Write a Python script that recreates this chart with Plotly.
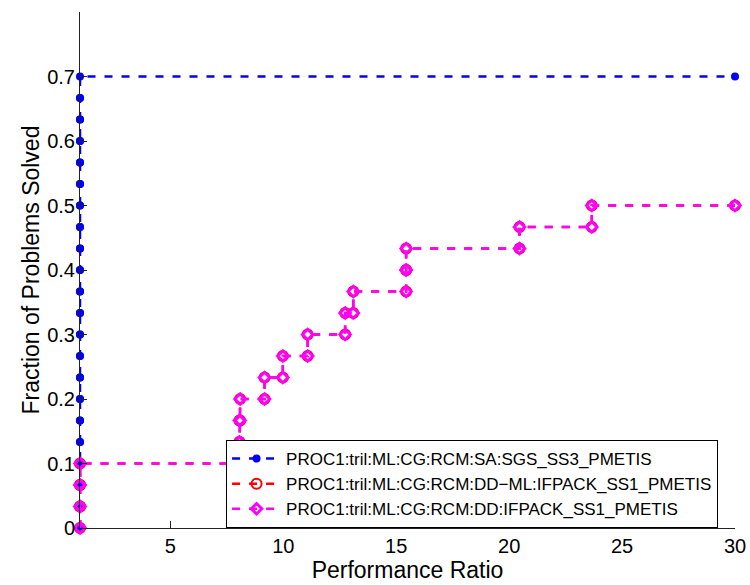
import plotly.graph_objects as go

n_problems = 30
x_max = 30

names = [
    "PROC1:tril:ML:CG:RCM:SA:SGS_SS3_PMETIS",
    "PROC1:tril:ML:CG:RCM:DD\u2212ML:IFPACK_SS1_PMETIS",
    "PROC1:tril:ML:CG:RCM:DD:IFPACK_SS1_PMETIS",
]
# sorted performance ratios of solved problems for each solver
ratios_sa = [1.0] * 21
ratios_ddml = [1.0, 1.0, 1.0, 8.06, 8.06, 8.09, 9.17, 9.98, 11.08, 12.74,
               13.10, 15.44, 15.44, 20.46, 23.66]
ratios_dd = [1.0, 1.0, 1.0, 8.06, 8.06, 8.09, 9.17, 9.98, 11.08, 12.74,
             13.10, 15.44, 15.44, 20.46, 23.66]

x_ticks = [5, 10, 15, 20, 25, 30]
y_ticks = [0, 0.1, 0.2, 0.3, 0.4, 0.5, 0.6, 0.7]


def profile(ratios):
    xs, ys = [], []
    for k, r in enumerate(ratios):
        xs += [r, r]
        ys += [k / n_problems, (k + 1) / n_problems]
    xs.append(x_max)
    ys.append(len(ratios) / n_problems)
    return xs, ys


FONT = "Liberation Sans, Arial, Helvetica, sans-serif"
fig = go.Figure()

styles = [
    (ratios_sa, "#0000ff", dict(symbol="circle", size=8, color="#0000ff")),
    (ratios_ddml, "#ff0000", dict(symbol="circle-open", size=10,
                                  color="#ff0000", line=dict(width=2, color="#ff0000"))),
    (ratios_dd, "#ff00ff", dict(symbol="diamond-open", size=8,
                                color="#ff00ff", line=dict(width=3, color="#ff00ff"))),
]
for name, (rat, col, mk) in zip(names, styles):
    xs, ys = profile(rat)
    fig.add_trace(go.Scatter(
        x=xs, y=ys, mode="lines+markers", name=name,
        line=dict(color=col, width=2.5, dash="8px,9px"),
        marker=mk, cliponaxis=False,
    ))

fig.update_layout(
    width=750, height=585,
    margin=dict(l=80, r=15, t=12, b=57, autoexpand=False),
    paper_bgcolor="white", plot_bgcolor="white",
    font=dict(family=FONT, size=20, color="black"),
    showlegend=True,
    legend=dict(
        x=0.223, y=0.0, xanchor="left", yanchor="bottom",
        bgcolor="white", bordercolor="black", borderwidth=1,
        font=dict(family=FONT, size=17, color="black"),
        tracegroupgap=0, itemwidth=49,
    ),
    xaxis=dict(
        range=[1, 30], tickvals=x_ticks, ticktext=[str(v) for v in x_ticks],
        showgrid=False, zeroline=False, showline=True, linecolor="#222", linewidth=1,
        ticks="inside", ticklen=7, tickcolor="#222", mirror=False, automargin=False,
        title=dict(text="Performance Ratio", font=dict(size=23), standoff=4),
        tickfont=dict(size=20),
    ),
    yaxis=dict(
        range=[0, 0.8], tickvals=y_ticks, ticktext=[f"{v:g}" for v in y_ticks],
        showgrid=False, zeroline=False, showline=True, linecolor="#222", linewidth=1,
        ticks="inside", ticklen=7, tickcolor="#222", mirror=False, automargin=False,
        title=dict(text="Fraction of Problems Solved", font=dict(size=23), standoff=1),
        tickfont=dict(size=20),
    ),
)

fig.write_html("out.html")
